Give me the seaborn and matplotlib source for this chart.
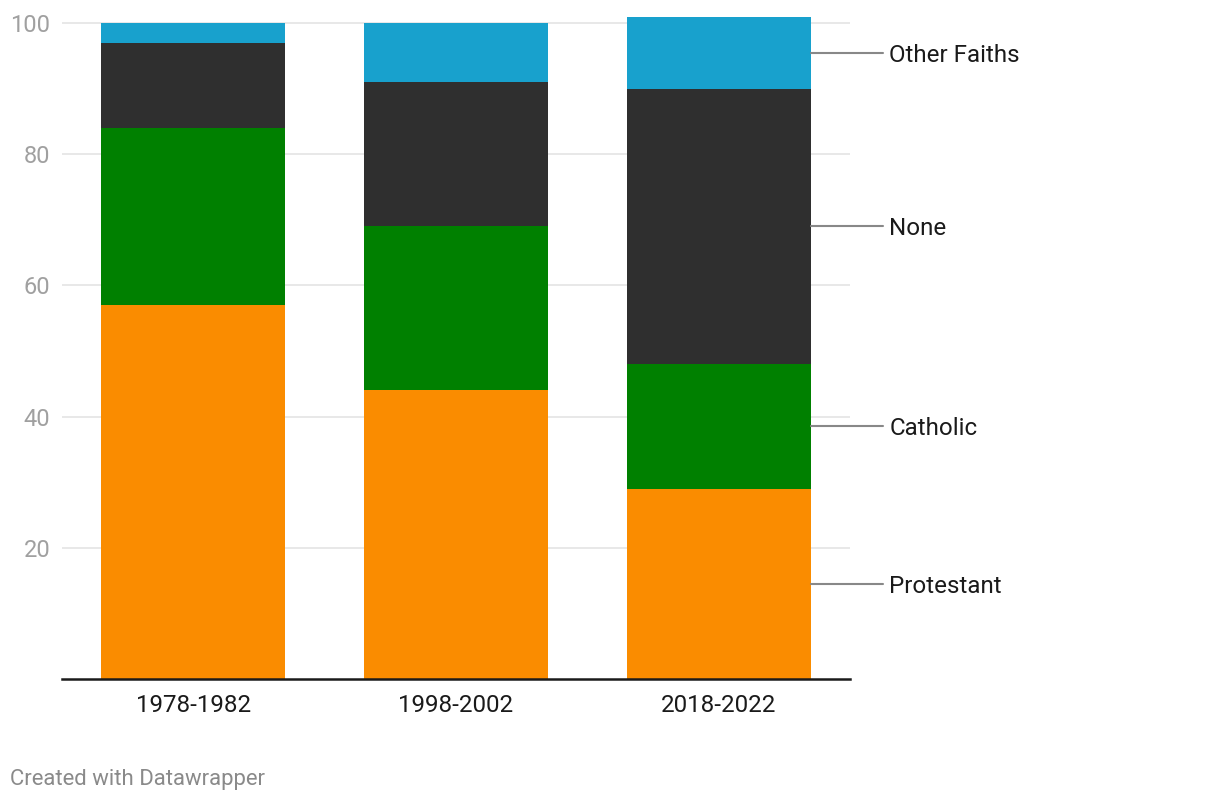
import numpy as np
import matplotlib
matplotlib.use("Agg")
import matplotlib.pyplot as plt
import seaborn as sns

periods = ["1978-1982", "1998-2002", "2018-2022"]
protestant = [57, 44, 29]
catholic = [27, 25, 19]
none = [13, 22, 42]
other = [3, 9, 11]

groups = ["Protestant", "Catholic", "None", "Other Faiths"]
colors = ["#fa8c00", "#008000", "#2f2f2f", "#18a1cd"]

sns.set_theme(style="white")
plt.rcParams["font.family"] = ["Roboto", "DejaVu Sans"]

fig = plt.figure(figsize=(12.2, 8), dpi=100)
ax = fig.add_axes([62 / 1220, 121 / 800, 788 / 1220, 669 / 800])

series = [protestant, catholic, none, other]
tops = np.cumsum(np.array(series), axis=0)

# draw tallest layer first so lower layers sit on top of it
for i in range(len(series) - 1, -1, -1):
    sns.barplot(x=periods, y=tops[i], order=periods, color=colors[i],
                saturation=1, width=0.7, linewidth=0, edgecolor="none",
                ax=ax, zorder=2)

ax.set_xlim(-0.5, 2.5)
ax.set_ylim(0, 102)
ax.set_yticks([20, 40, 60, 80, 100])
ax.yaxis.grid(True, color="#e6e6e6", linewidth=1.3, zorder=0)
ax.set_axisbelow(True)
for s in ["top", "right", "left"]:
    ax.spines[s].set_visible(False)
ax.spines["bottom"].set_color("#1a1a1a")
ax.spines["bottom"].set_linewidth(1.8)
ax.tick_params(axis="y", length=0, pad=8.5, labelsize=17, labelcolor="#a0a0a0")
ax.tick_params(axis="x", length=0, pad=11, labelsize=17.4, labelcolor="#1a1a1a")
ax.set_xlabel("")
ax.set_ylabel("")

# direct labels for the last bar
last = len(periods) - 1
bar_right = last + 0.35
for i, name in enumerate(groups):
    lo = tops[i - 1][last] if i > 0 else 0
    mid = (lo + tops[i][last]) / 2
    ax.plot([bar_right, bar_right + 0.275], [mid, mid], color="#888888",
            linewidth=1.5, clip_on=False, zorder=3)
    ax.text(bar_right + 0.3, mid, name, fontsize=17.4, color="#1a1a1a",
            va="center_baseline", ha="left", clip_on=False)

fig.text(10 / 1220, 1 - 779 / 800, "Created with Datawrapper", fontsize=15.9,
         color="#8a8a8a", va="center", ha="left")

fig.savefig("out.png", dpi=100)
